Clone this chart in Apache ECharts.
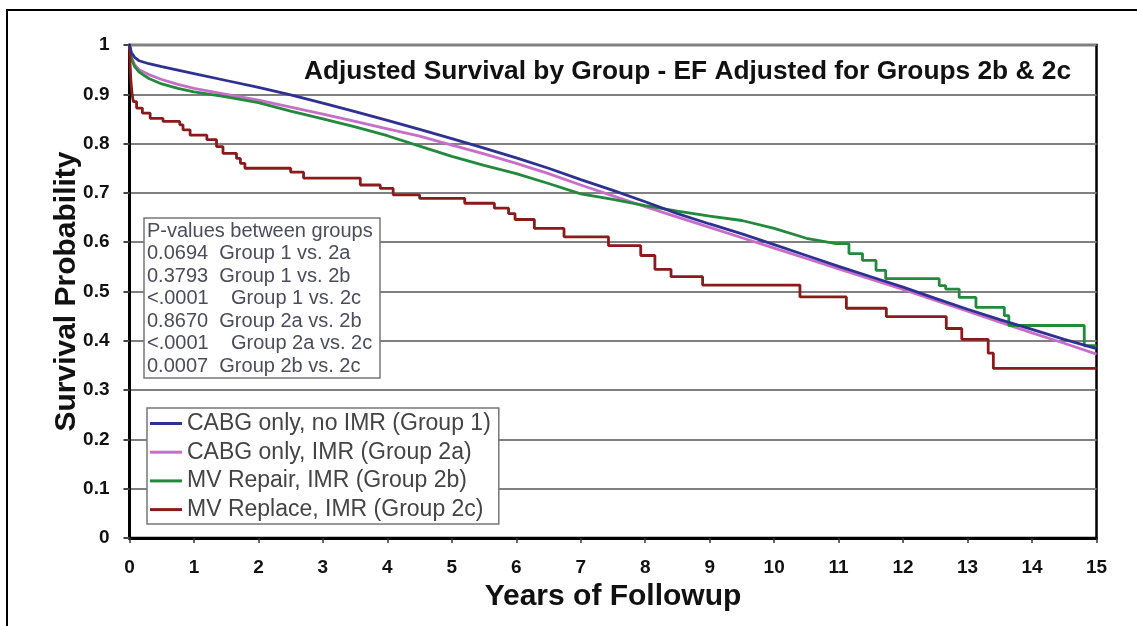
<!DOCTYPE html>
<html><head><meta charset="utf-8">
<script src="https://cdn.jsdelivr.net/npm/echarts@6/dist/echarts.min.js"></script>
<style>html,body{margin:0;padding:0;background:#fff}#c{width:1137px;height:626px}</style>
</head><body><div id="c"></div>
<script>
// ---- data ----
const chartTitle = 'Adjusted Survival by Group - EF Adjusted for Groups 2b & 2c';
const xName = 'Years of Followup';
const yName = 'Survival Probability';
const seriesNames = ['CABG only, no IMR (Group 1)', 'CABG only, IMR (Group 2a)', 'MV Repair, IMR (Group 2b)', 'MV Replace, IMR (Group 2c)'];
const seriesColors = ['#2e3192', '#c86ec8', '#23893c', '#8b1a1a'];

// Group 1: [years, survival]
const group1 = [[0,1],[0.03,0.985],[0.08,0.975],[0.15,0.968],[0.3,0.962],[0.5,0.956],[0.75,0.949],[1,0.942],[1.5,0.928],[2,0.914],[2.5,0.899],[3,0.882],[3.5,0.865],[4,0.847],[4.5,0.829],[5,0.81],[5.5,0.791],[6,0.771],[6.5,0.75],[7,0.727],[7.5,0.705],[8,0.682],[8.5,0.658],[9,0.637],[9.5,0.617],[10,0.595],[10.5,0.573],[11,0.551],[11.5,0.53],[12,0.509],[12.5,0.486],[13,0.464],[13.5,0.443],[14,0.423],[14.5,0.403],[15,0.384]];
// Group 2a
const group2a = [[0,1],[0.03,0.975],[0.08,0.96],[0.15,0.95],[0.3,0.94],[0.5,0.93],[0.75,0.92],[1,0.912],[1.5,0.9],[2,0.888],[2.5,0.874],[3,0.86],[3.5,0.845],[4,0.83],[4.5,0.815],[5,0.797],[5.5,0.779],[6,0.76],[6.5,0.739],[7,0.716],[7.5,0.694],[8,0.672],[8.5,0.651],[9,0.63],[9.5,0.609],[10,0.588],[10.5,0.567],[11,0.546],[11.5,0.525],[12,0.504],[12.5,0.482],[13,0.46],[13.5,0.438],[14,0.416],[14.5,0.395],[15,0.373]];
// Group 2b (step corners listed explicitly after year 11)
const group2b = [[0,1],[0.03,0.972],[0.08,0.956],[0.15,0.945],[0.3,0.932],[0.5,0.921],[0.75,0.912],[1,0.905],[1.5,0.895],[2,0.883],[2.5,0.866],[3,0.85],[3.5,0.834],[4,0.816],[4.5,0.795],[5,0.774],[5.5,0.756],[6,0.739],[6.5,0.719],[7,0.698],[7.5,0.687],[8,0.674],[8.5,0.663],[9,0.653],[9.5,0.644],[10,0.628],[10.5,0.608],[10.96,0.597],[11.16,0.597],[11.16,0.577],[11.37,0.577],[11.37,0.563],[11.58,0.563],[11.58,0.543],[11.73,0.543],[11.73,0.526],[12.56,0.526],[12.56,0.512],[12.66,0.512],[12.66,0.505],[12.87,0.505],[12.87,0.488],[13.13,0.488],[13.13,0.468],[13.57,0.468],[13.57,0.451],[13.64,0.451],[13.64,0.431],[14.81,0.431],[14.81,0.39],[15,0.39]];
// Group 2c: [year of step, new survival level]
const group2c = [[0,1],[0.01,0.96],[0.02,0.93],[0.04,0.9],[0.06,0.885],[0.11,0.872],[0.2,0.862],[0.32,0.851],[0.52,0.845],[0.78,0.838],[0.83,0.828],[0.94,0.817],[1.2,0.808],[1.35,0.794],[1.45,0.78],[1.66,0.77],[1.72,0.76],[1.79,0.75],[2.5,0.742],[2.7,0.73],[3.58,0.716],[3.89,0.709],[4.09,0.696],[4.5,0.689],[5.2,0.679],[5.66,0.669],[5.88,0.658],[5.98,0.646],[6.28,0.628],[6.74,0.611],[7.43,0.593],[7.93,0.573],[8.15,0.545],[8.4,0.53],[8.89,0.513],[10.4,0.489],[11.12,0.466],[11.74,0.449],[12.67,0.425],[12.91,0.403],[13.32,0.375],[13.4,0.344],[15,0.344]];

const pHeader = 'P-values between groups';
const pValues = ['0.0694', '0.3793', '<.0001', '0.8670', '<.0001', '0.0007'];
const pComparisons = ['Group 1 vs. 2a', 'Group 1 vs. 2b', 'Group 1 vs. 2c', 'Group 2a vs. 2b', 'Group 2a vs. 2c', 'Group 2b vs. 2c'];

// ---- chart ----
const FONT = '"Liberation Sans", Arial, Helvetica, sans-serif';
const chart = echarts.init(document.getElementById('c'), null, {renderer: 'canvas'});
const pText = [pHeader].concat(pValues.map((v, i) => v + (v.charAt(0) === '<' ? '    ' : '  ') + pComparisons[i])).join('\n');
const allData = [group1, group2a, group2b, group2c];

chart.setOption({
  animation: false,
  backgroundColor: '#fff',
  title: {
    text: chartTitle, right: 66, top: 59, padding: 0,
    textStyle: {fontFamily: FONT, fontSize: 26.3, fontWeight: 'bold', color: '#111'}
  },
  grid: {left: 129.5, right: 40.5, top: 45, bottom: 88, show: true, borderColor: '#000', borderWidth: 2.5, backgroundColor: '#fff'},
  xAxis: {
    type: 'value', min: 0, max: 15, interval: 1,
    axisLine: {show: true, onZero: false, lineStyle: {color: '#000', width: 3}},
    axisTick: {show: true, length: 5, lineStyle: {color: '#333', width: 1.5}},
    axisLabel: {fontFamily: FONT, fontSize: 19, fontWeight: 'bold', color: '#111', margin: 20},
    splitLine: {show: false},
    name: xName, nameLocation: 'middle', nameGap: 44, nameMoveOverlap: false,
    nameTextStyle: {fontFamily: FONT, fontSize: 30, fontWeight: 'bold', color: '#111'}
  },
  yAxis: {
    type: 'value', min: 0, max: 1, interval: 0.1,
    axisLine: {show: true, lineStyle: {color: '#000', width: 3}},
    axisTick: {show: true, length: 6, lineStyle: {color: '#444', width: 2}},
    axisLabel: {fontFamily: FONT, fontSize: 19, fontWeight: 'bold', color: '#111', margin: 20},
    splitLine: {show: true, lineStyle: {color: '#808080', width: 2}},
    name: yName, nameLocation: 'middle', nameGap: 48, nameMoveOverlap: false,
    nameTextStyle: {fontFamily: FONT, fontSize: 30, fontWeight: 'bold', color: '#111'}
  },
  legend: {
    data: seriesNames, orient: 'vertical', left: 147, top: 408,
    backgroundColor: '#fff', borderColor: '#777', borderWidth: 1.5,
    padding: [4, 8, 3, 3], itemGap: 5.7, itemWidth: 32, itemHeight: 3, icon: 'rect',
    textStyle: {fontFamily: FONT, fontSize: 23, lineHeight: 23, color: '#444'},
    selectedMode: false, z: 10
  },
  series: allData.map((d, i) => ({
    name: seriesNames[i], type: 'line', data: d, symbol: 'none', showSymbol: false,
    step: i === 3 ? 'end' : false,
    lineStyle: {width: 2.8, color: seriesColors[i]},
    itemStyle: {color: seriesColors[i]},
    z: 3 + (i === 0 ? 1 : 0)
  })),
  graphic: [
    {type: 'polyline', shape: {points: [[1137, 10], [7, 10], [7, 626]]}, style: {stroke: '#000', lineWidth: 2, fill: null}, z: 20, silent: true},
    {type: 'rect', shape: {x: 144, y: 218, width: 236, height: 160}, style: {fill: '#fff', stroke: '#777', lineWidth: 1.5}, z: 10, silent: true},
    {type: 'text', x: 147, y: 220, style: {text: pText, font: '20px ' + FONT, fill: '#4c4c5c', lineHeight: 22.5, verticalAlign: 'top', align: 'left'}, z: 11, silent: true}
  ]
});
</script></body></html>
